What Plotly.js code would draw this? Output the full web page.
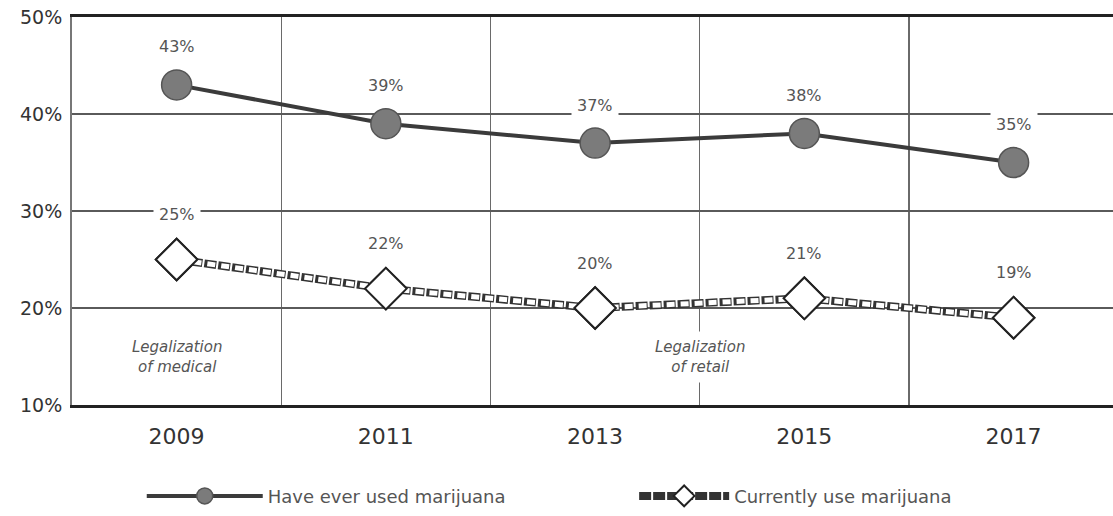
<!DOCTYPE html>
<html>
<head>
<meta charset="utf-8">
<script src="https://cdn.plot.ly/plotly-3.0.1.min.js"></script>
<style>html,body{margin:0;padding:0;background:#fff;}#chart{width:1113px;height:516px;}</style>
</head>
<body>
<div id="chart"></div>
<script>
const years = [2009, 2011, 2013, 2015, 2017];
const everUsed = [43, 39, 37, 38, 35];
const currentlyUse = [25, 22, 20, 21, 19];
const gridYears = [2010, 2012, 2014, 2016];
const yTicks = [10, 20, 30, 40, 50];
const yTickLabels = ['10%', '20%', '30%', '40%', '50%'];
const seriesNames = ['Have ever used marijuana', 'Currently use marijuana'];
const noteTexts = ['Legalization<br>of medical', 'Legalization<br>of retail'];
const noteYears = [2009, 2014];

const FONT = 'DejaVu Sans, Verdana, sans-serif';

const traces = [
  {
    x: years, y: everUsed, name: seriesNames[0], mode: 'lines+markers', legend: 'legend',
    line: {color: '#3b3b3b', width: 4},
    marker: {symbol: 'circle', size: 30, color: '#7b7b7b', line: {color: '#555', width: 1.5}},
    hoverinfo: 'skip'
  },
  {
    x: years, y: currentlyUse, name: seriesNames[1], mode: 'lines+markers', legend: 'legend2',
    line: {color: '#333', width: 8, dash: '12px,2px'},
    marker: {symbol: 'diamond', size: 32, color: '#fff', line: {color: '#222', width: 2}},
    hoverinfo: 'skip'
  },
  {
    x: years, y: currentlyUse, mode: 'lines', showlegend: false,
    line: {color: '#fff', width: 5, dash: '0px,3px,8px,3px'},
    hoverinfo: 'skip'
  },
  {
    x: years, y: currentlyUse, mode: 'markers', showlegend: false,
    marker: {symbol: 'diamond', size: 32, color: '#fff', line: {color: '#222', width: 2}},
    hoverinfo: 'skip'
  }
];

const annotations = [];
years.forEach((yr, i) => {
  annotations.push({x: yr, y: everUsed[i], text: everUsed[i] + '%', showarrow: false, yshift: 38,
    font: {family: FONT, size: 16, color: '#555'}, bgcolor: '#fff', borderpad: 5});
  annotations.push({x: yr, y: currentlyUse[i], text: currentlyUse[i] + '%', showarrow: false, yshift: 45,
    font: {family: FONT, size: 16, color: '#555'}, bgcolor: '#fff', borderpad: 5});
});
noteYears.forEach((yr, i) => {
  annotations.push({x: yr, y: 15, text: '<i>' + noteTexts[i] + '</i>', showarrow: false,
    font: {family: FONT, size: 15, color: '#555'}, bgcolor: '#fff', borderpad: 6});
});

const legendFont = {family: FONT, size: 18, color: '#555'};

const layout = {
  width: 1113, height: 516,
  margin: {l: 72, r: 0, t: 17, b: 111},
  paper_bgcolor: '#fff', plot_bgcolor: '#fff',
  showlegend: true,
  legend: {orientation: 'h', x: 0.067, xanchor: 'left', y: -0.235, yanchor: 'middle',
    itemwidth: 116, font: legendFont},
  legend2: {orientation: 'h', x: 0.54, xanchor: 'left', y: -0.235, yanchor: 'middle',
    itemwidth: 90, font: legendFont},
  xaxis: {
    range: [2008, 2017.95], tickmode: 'array', tickvals: years, ticktext: years.map(String),
    showgrid: false, zeroline: false, ticks: '', ticklabelstandoff: 10,
    showline: true, linecolor: '#222', linewidth: 3, mirror: true,
    tickfont: {family: FONT, size: 22, color: '#333'},
    minor: {tickmode: 'array', tickvals: gridYears, showgrid: true, gridcolor: '#6a6a6a', gridwidth: 1.5, ticks: ''}
  },
  yaxis: {
    range: [10, 50], tickmode: 'array', tickvals: yTicks, ticktext: yTickLabels,
    showgrid: true, gridcolor: '#5a5a5a', gridwidth: 1.5, zeroline: false, ticks: '',
    showline: true, linecolor: '#777', linewidth: 2, mirror: false, ticklabelstandoff: 4,
    tickfont: {family: FONT, size: 19, color: '#333'}
  },
  shapes: [
    {type: 'line', xref: 'paper', x0: 0, x1: 1, yref: 'y', y0: 20, y1: 20, layer: 'below',
     line: {color: '#111', width: 2}}
  ],
  annotations: annotations
};

Plotly.newPlot('chart', traces, layout, {displayModeBar: false, staticPlot: true});
</script>
</body>
</html>
